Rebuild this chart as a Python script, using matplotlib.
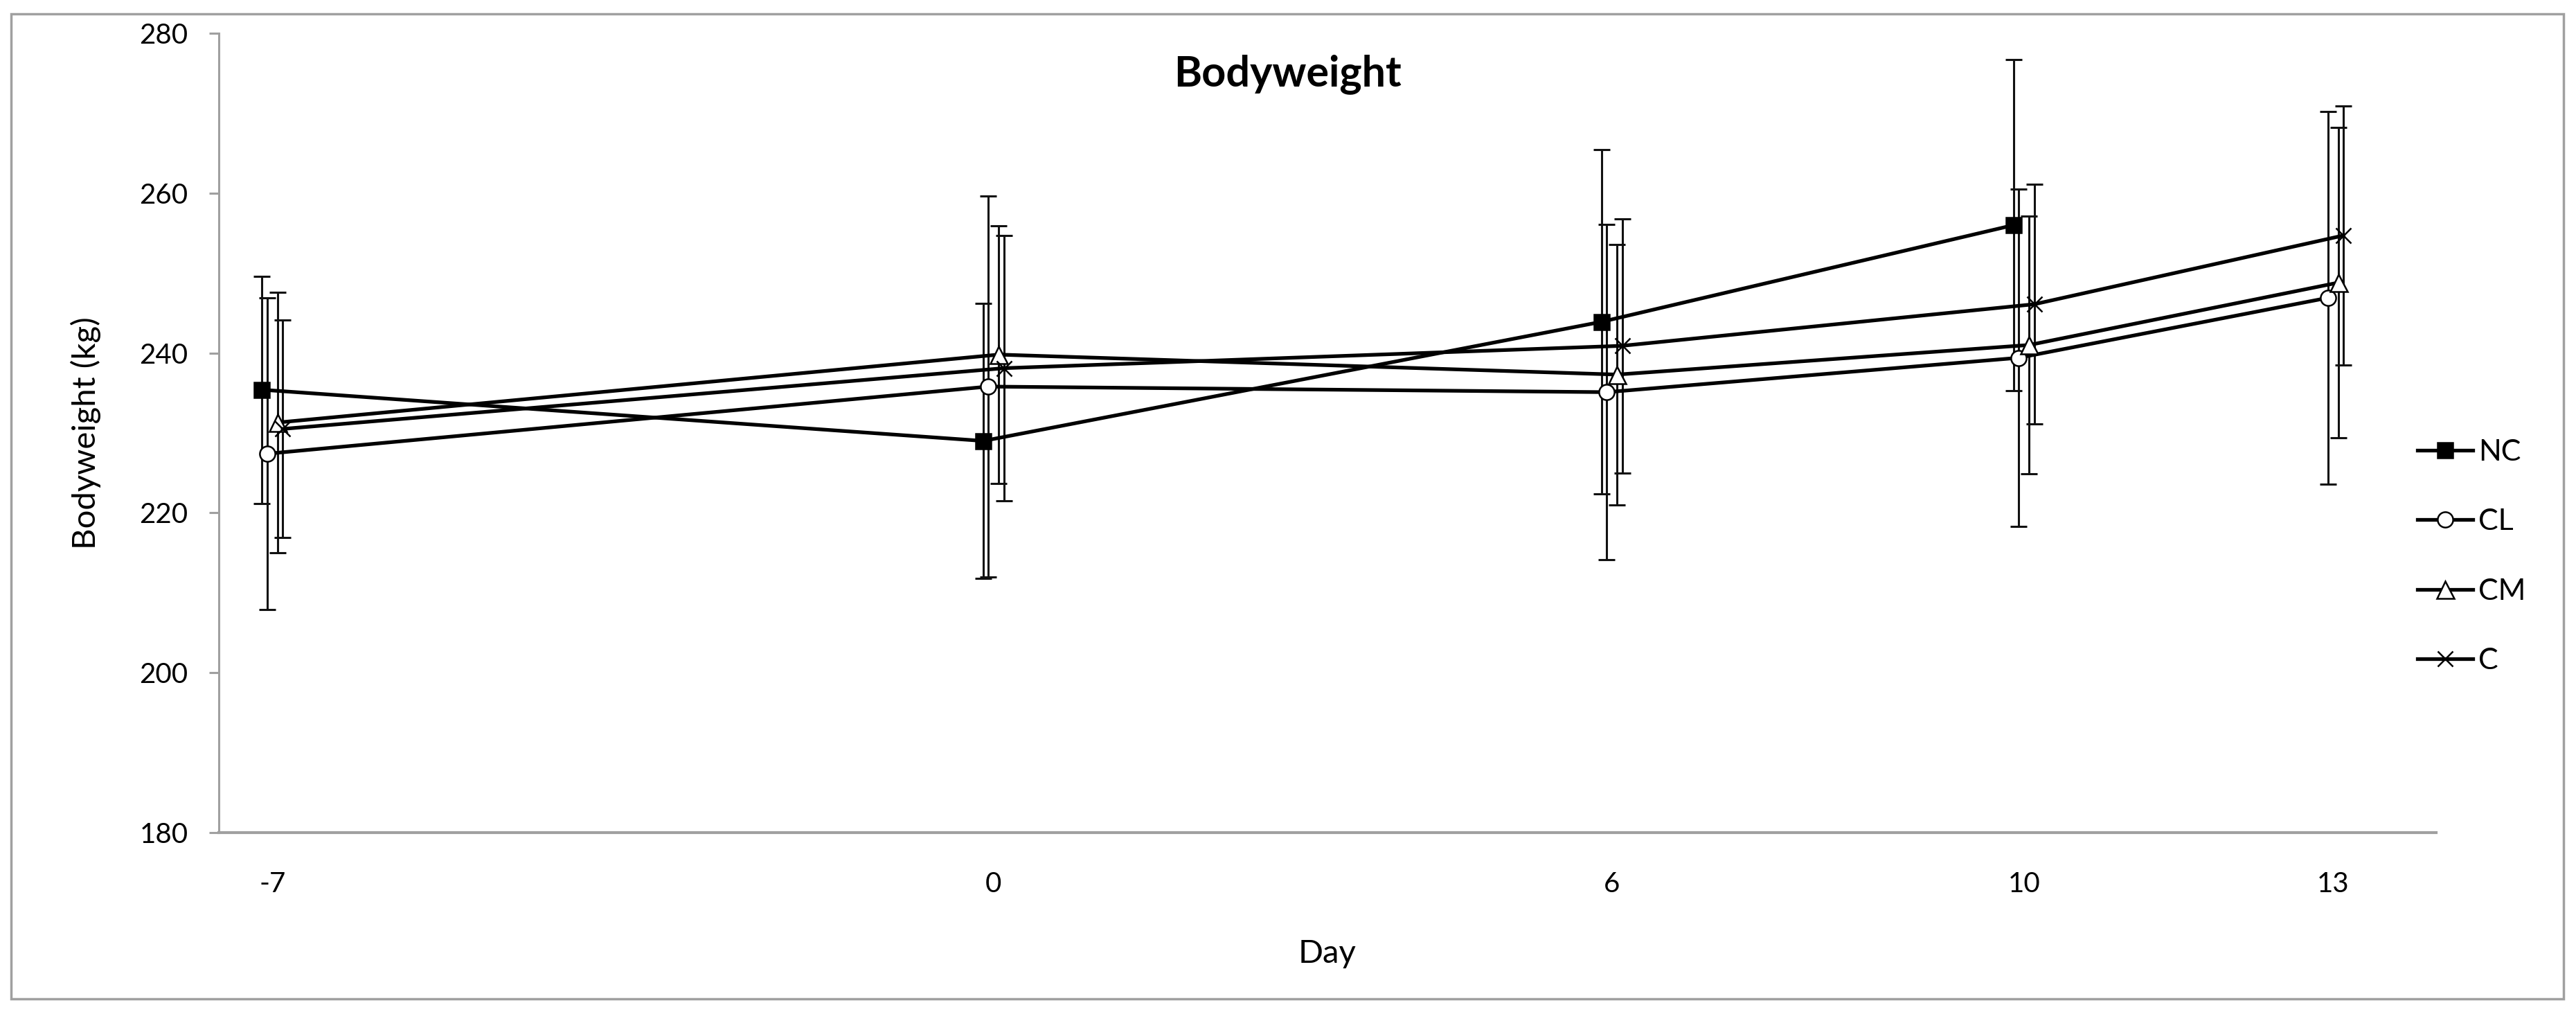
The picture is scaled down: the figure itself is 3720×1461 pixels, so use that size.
import numpy as np
import matplotlib.pyplot as plt
from matplotlib.patches import Rectangle

plt.rcParams['font.family'] = ['Lato', 'DejaVu Sans']

# ----- data ---------------------------------------------------------

days = [-7, 0, 6, 10, 13]

nc = [235.4, 229.0, 243.9, 256.0, np.nan]
nc_err = [14.2, 17.2, 21.5, 20.7, np.nan]
cl = [227.4, 235.8, 235.1, 239.4, 246.9]
cl_err = [19.5, 23.8, 21.0, 21.1, 23.3]
cm = [231.3, 239.8, 237.3, 241.0, 248.8]
cm_err = [16.3, 16.1, 16.3, 16.1, 19.4]
c = [230.5, 238.1, 240.9, 246.1, 254.7]
c_err = [13.6, 16.6, 15.9, 15.0, 16.2]

labels = ["NC", "CL", "CM", "C"]
yticks = [180, 200, 220, 240, 260, 280]

# ----- style --------------------------------------------------------

series = [
    (nc, nc_err, labels[0], dict(marker="s", mfc="black", ms=16), -0.10),
    (cl, cl_err, labels[1], dict(marker="o", mfc="white", ms=16), -0.05),
    (cm, cm_err, labels[2], dict(marker="^", mfc="white", ms=18), 0.05),
    (c, c_err, labels[3], dict(marker="x", mfc="black", ms=16), 0.10),
]

grey = "#a0a0a0"

# ----- plot ---------------------------------------------------------

fig = plt.figure(figsize=(37.2, 14.61), dpi=100)
ax = fig.add_axes([316/3720, 1 - 1202/1461, (3518-316)/3720, (1202-48)/1461])

x = np.array(days, dtype=float)
for vals, err, lab, mk, off in series:
    ax.errorbar(x + off, vals, yerr=err, fmt="none", ecolor="#111111",
                elinewidth=2.2, capsize=8.5, capthick=2.2, zorder=2)
    ax.plot(x + off, vals, color="black", lw=3.8, mec="black", mew=1.8,
            label=lab, zorder=3, **mk)

ax.set_xlim(-7.52, 14.0)
ax.set_ylim(180, 280)
ax.set_xticks(days)
ax.set_xticklabels([str(d) for d in days])
ax.set_yticks(yticks)

for s in ["top", "right"]:
    ax.spines[s].set_visible(False)
ax.spines["left"].set_color(grey)
ax.spines["left"].set_linewidth(2.2)
ax.spines["bottom"].set_color(grey)
ax.spines["bottom"].set_linewidth(3.0)

ax.tick_params(axis="y", direction="out", length=10, width=2.2, color=grey,
               labelsize=29, pad=22)
ax.tick_params(axis="x", length=0, labelsize=29, pad=40)

ax.set_xlabel("Day", fontsize=34, labelpad=44)
ax.set_ylabel("Bodyweight (kg)", fontsize=34, labelpad=40)

fig.text(1859/3720, 1 - 107/1461, "Bodyweight", ha="center", va="center",
         fontsize=44, fontweight="bold")

ax.legend(loc="upper left", bbox_to_anchor=(3491/3720, 1 - 634/1461),
          bbox_transform=fig.transFigure, frameon=False, fontsize=31,
          handlelength=1.85, handletextpad=0.2, labelspacing=1.45,
          borderpad=0, borderaxespad=0)

# outer chart frame
fig.add_artist(Rectangle((16/3720, 1 - 1442/1461), (3702-16)/3720, (1442-20)/1461,
                         transform=fig.transFigure, fill=False,
                         edgecolor=grey, lw=2.5))

plt.savefig("out.png", dpi=100)
